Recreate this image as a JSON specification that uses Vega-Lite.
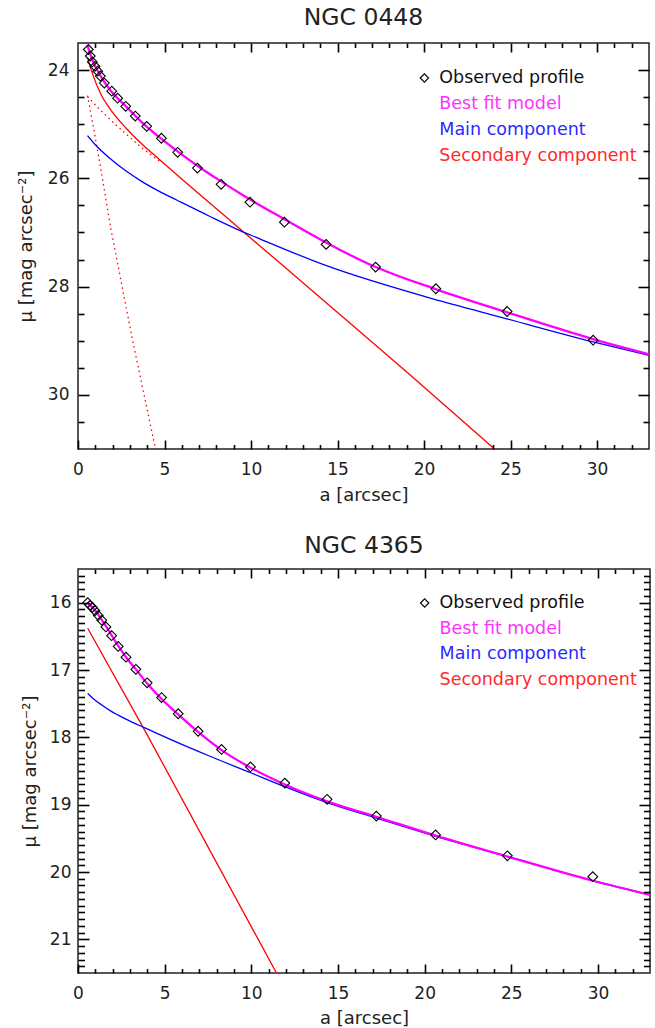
{
  "$schema": "https://vega.github.io/schema/vega-lite/v6.json",
  "padding": {"left": 16, "top": 4, "right": 0, "bottom": 0},
  "background": "white",
  "config": {
    "font": "DejaVu Sans",
    "view": {"stroke": "#222", "strokeWidth": 1.5},
    "axis": {
      "grid": false,
      "labelFont": "DejaVu Sans", "labelFontSize": 17, "labelColor": "#222",
      "titleFont": "DejaVu Sans", "titleFontSize": 18, "titleFontWeight": "normal", "titleColor": "#222"
    },
    "title": {"font": "DejaVu Sans", "fontSize": 23.5, "fontWeight": "normal", "color": "#222"},
    "line": {"interpolate": "monotone"},
    "text": {"font": "DejaVu Sans", "fontSize": 17.5, "align": "left", "baseline": "middle"}
  },
  "datasets": {
    "key_labels": [
      {"label": "Observed profile"},
      {"label": "Best fit model"},
      {"label": "Main component"},
      {"label": "Secondary component"}
    ],
    "profile_0448": [
      {"a": 0.60, "mu": 23.62}, {"a": 0.71, "mu": 23.74}, {"a": 0.83, "mu": 23.85}, {"a": 0.98, "mu": 23.93},
      {"a": 1.14, "mu": 24.02}, {"a": 1.29, "mu": 24.11}, {"a": 1.52, "mu": 24.24}, {"a": 1.95, "mu": 24.39},
      {"a": 2.29, "mu": 24.52}, {"a": 2.76, "mu": 24.67}, {"a": 3.31, "mu": 24.85}, {"a": 3.97, "mu": 25.04},
      {"a": 4.82, "mu": 25.26}, {"a": 5.76, "mu": 25.52}, {"a": 6.90, "mu": 25.81}, {"a": 8.27, "mu": 26.11},
      {"a": 9.94, "mu": 26.44}, {"a": 11.93, "mu": 26.81}, {"a": 14.34, "mu": 27.22}, {"a": 17.20, "mu": 27.64},
      {"a": 20.68, "mu": 28.04}, {"a": 24.80, "mu": 28.46}, {"a": 29.77, "mu": 28.99}
    ],
    "curves_0448": [
      {"comp": "model", "a": 0.55, "mu": 23.55},
      {"comp": "model", "a": 0.85, "mu": 23.83},
      {"comp": "model", "a": 1.33, "mu": 24.12},
      {"comp": "model", "a": 1.81, "mu": 24.35},
      {"comp": "model", "a": 2.77, "mu": 24.67},
      {"comp": "model", "a": 3.74, "mu": 24.98},
      {"comp": "model", "a": 4.70, "mu": 25.24},
      {"comp": "model", "a": 5.66, "mu": 25.48},
      {"comp": "model", "a": 7.00, "mu": 25.79},
      {"comp": "model", "a": 8.00, "mu": 26.00},
      {"comp": "model", "a": 9.42, "mu": 26.29},
      {"comp": "model", "a": 11.90, "mu": 26.75},
      {"comp": "model", "a": 14.30, "mu": 27.18},
      {"comp": "model", "a": 17.13, "mu": 27.63},
      {"comp": "model", "a": 20.70, "mu": 28.05},
      {"comp": "model", "a": 24.84, "mu": 28.48},
      {"comp": "model", "a": 29.77, "mu": 28.97},
      {"comp": "model", "a": 33.00, "mu": 29.25},
      {"comp": "main", "a": 0.55, "mu": 25.21},
      {"comp": "main", "a": 1.00, "mu": 25.38},
      {"comp": "main", "a": 1.80, "mu": 25.62},
      {"comp": "main", "a": 2.80, "mu": 25.87},
      {"comp": "main", "a": 3.70, "mu": 26.06},
      {"comp": "main", "a": 4.70, "mu": 26.24},
      {"comp": "main", "a": 5.70, "mu": 26.40},
      {"comp": "main", "a": 7.60, "mu": 26.70},
      {"comp": "main", "a": 9.40, "mu": 26.97},
      {"comp": "main", "a": 10.30, "mu": 27.09},
      {"comp": "main", "a": 14.24, "mu": 27.60},
      {"comp": "main", "a": 21.00, "mu": 28.27},
      {"comp": "main", "a": 24.84, "mu": 28.60},
      {"comp": "main", "a": 29.77, "mu": 29.02},
      {"comp": "main", "a": 33.00, "mu": 29.27},
      {"comp": "secondary", "a": 0.55, "mu": 23.77},
      {"comp": "secondary", "a": 0.85, "mu": 24.08},
      {"comp": "secondary", "a": 1.33, "mu": 24.45},
      {"comp": "secondary", "a": 1.81, "mu": 24.70},
      {"comp": "secondary", "a": 2.77, "mu": 25.07},
      {"comp": "secondary", "a": 3.74, "mu": 25.38},
      {"comp": "secondary", "a": 4.70, "mu": 25.65},
      {"comp": "secondary", "a": 5.66, "mu": 25.92},
      {"comp": "secondary", "a": 7.00, "mu": 26.29},
      {"comp": "secondary", "a": 8.00, "mu": 26.56},
      {"comp": "secondary", "a": 9.13, "mu": 26.87},
      {"comp": "secondary", "a": 14.53, "mu": 28.35},
      {"comp": "secondary", "a": 19.15, "mu": 29.62},
      {"comp": "secondary", "a": 24.07, "mu": 31.00},
      {"comp": "secondary inner", "a": 0.55, "mu": 24.47},
      {"comp": "secondary inner", "a": 0.85, "mu": 24.98},
      {"comp": "secondary inner", "a": 1.33, "mu": 25.85},
      {"comp": "secondary inner", "a": 1.91, "mu": 26.95},
      {"comp": "secondary inner", "a": 3.16, "mu": 29.00},
      {"comp": "secondary inner", "a": 4.48, "mu": 31.00},
      {"comp": "secondary outer", "a": 0.55, "mu": 24.49},
      {"comp": "secondary outer", "a": 1.23, "mu": 24.72},
      {"comp": "secondary outer", "a": 1.81, "mu": 24.90},
      {"comp": "secondary outer", "a": 2.77, "mu": 25.18},
      {"comp": "secondary outer", "a": 3.74, "mu": 25.45},
      {"comp": "secondary outer", "a": 4.70, "mu": 25.68}
    ],
    "profile_4365": [
      {"a": 0.56, "mu": 16.00}, {"a": 0.69, "mu": 16.04}, {"a": 0.83, "mu": 16.07}, {"a": 0.98, "mu": 16.12},
      {"a": 1.17, "mu": 16.19}, {"a": 1.37, "mu": 16.26}, {"a": 1.61, "mu": 16.36}, {"a": 1.94, "mu": 16.49},
      {"a": 2.32, "mu": 16.65}, {"a": 2.77, "mu": 16.81}, {"a": 3.34, "mu": 16.99}, {"a": 3.99, "mu": 17.19},
      {"a": 4.82, "mu": 17.41}, {"a": 5.78, "mu": 17.65}, {"a": 6.93, "mu": 17.91}, {"a": 8.28, "mu": 18.18},
      {"a": 9.95, "mu": 18.44}, {"a": 11.93, "mu": 18.68}, {"a": 14.37, "mu": 18.92}, {"a": 17.21, "mu": 19.17},
      {"a": 20.63, "mu": 19.45}, {"a": 24.77, "mu": 19.76}, {"a": 29.70, "mu": 20.07}
    ],
    "curves_4365": [
      {"comp": "model", "a": 0.56, "mu": 16.00},
      {"comp": "model", "a": 1.00, "mu": 16.12},
      {"comp": "model", "a": 1.61, "mu": 16.35},
      {"comp": "model", "a": 2.32, "mu": 16.64},
      {"comp": "model", "a": 2.77, "mu": 16.81},
      {"comp": "model", "a": 3.34, "mu": 16.99},
      {"comp": "model", "a": 3.99, "mu": 17.20},
      {"comp": "model", "a": 4.82, "mu": 17.43},
      {"comp": "model", "a": 5.78, "mu": 17.66},
      {"comp": "model", "a": 6.93, "mu": 17.92},
      {"comp": "model", "a": 8.28, "mu": 18.19},
      {"comp": "model", "a": 9.95, "mu": 18.45},
      {"comp": "model", "a": 11.93, "mu": 18.70},
      {"comp": "model", "a": 14.37, "mu": 18.95},
      {"comp": "model", "a": 17.21, "mu": 19.18},
      {"comp": "model", "a": 20.63, "mu": 19.46},
      {"comp": "model", "a": 24.77, "mu": 19.77},
      {"comp": "model", "a": 29.70, "mu": 20.13},
      {"comp": "model", "a": 33.00, "mu": 20.34},
      {"comp": "main", "a": 0.56, "mu": 17.35},
      {"comp": "main", "a": 0.90, "mu": 17.43},
      {"comp": "main", "a": 1.37, "mu": 17.52},
      {"comp": "main", "a": 1.90, "mu": 17.61},
      {"comp": "main", "a": 2.32, "mu": 17.67},
      {"comp": "main", "a": 3.00, "mu": 17.76},
      {"comp": "main", "a": 3.86, "mu": 17.86},
      {"comp": "main", "a": 5.59, "mu": 18.06},
      {"comp": "main", "a": 7.51, "mu": 18.27},
      {"comp": "main", "a": 10.00, "mu": 18.53},
      {"comp": "main", "a": 12.00, "mu": 18.74},
      {"comp": "main", "a": 14.37, "mu": 18.97},
      {"comp": "main", "a": 17.21, "mu": 19.20},
      {"comp": "main", "a": 20.63, "mu": 19.47},
      {"comp": "main", "a": 24.77, "mu": 19.77},
      {"comp": "main", "a": 29.70, "mu": 20.13},
      {"comp": "main", "a": 33.00, "mu": 20.34},
      {"comp": "secondary", "a": 0.56, "mu": 16.38},
      {"comp": "secondary", "a": 3.86, "mu": 17.90},
      {"comp": "secondary", "a": 11.45, "mu": 21.50}
    ]
  },
  "vconcat": [
    {
      "title": {"text": "NGC 0448", "offset": 12},
      "width": 571,
      "height": 406,
      "resolve": {"axis": {"x": "independent", "y": "independent"}, "scale": {"y": "independent"}},
      "layer": [
        {
          "data": {"name": "curves_0448"},
          "transform": [{"filter": "indexof(datum.comp, 'secondary ') === 0"}],
          "mark": {"type": "line", "color": "#ff0000", "strokeWidth": 1.3, "strokeDash": [1.5, 3.5], "interpolate": "linear"},
          "encoding": {
            "x": {"field": "a", "type": "quantitative", "scale": {"domain": [0, 33], "nice": false, "zero": false}, "axis": null},
            "y": {"field": "mu", "type": "quantitative", "scale": {"domain": [23.5, 31], "reverse": true, "nice": false, "zero": false}, "axis": null},
            "detail": {"field": "comp"}
          }
        },
        {
          "data": {"name": "curves_0448"},
          "transform": [{"filter": "datum.comp === 'secondary'"}],
          "mark": {"type": "line", "color": "#ff0000", "strokeWidth": 1.3},
          "encoding": {
            "x": {"field": "a", "type": "quantitative", "scale": {"domain": [0, 33], "nice": false, "zero": false},
              "axis": {"orient": "top", "values": [5, 10, 15, 20, 25, 30], "labels": false, "domain": false, "title": null, "offset": -9, "tickSize": 9, "tickColor": "#000000", "tickWidth": 1.6, "zindex": 2}},
            "y": {"field": "mu", "type": "quantitative", "scale": {"domain": [23.5, 31], "reverse": true, "nice": false, "zero": false},
              "axis": {"orient": "right", "values": [24, 26, 28, 30], "labels": false, "domain": false, "title": null, "offset": -11, "tickSize": 11, "tickColor": "#000000", "tickWidth": 1.6, "zindex": 2}}
          }
        },
        {
          "data": {"name": "curves_0448"},
          "transform": [{"filter": "datum.comp === 'main'"}],
          "mark": {"type": "line", "color": "#0000ff", "strokeWidth": 1.3},
          "encoding": {
            "x": {"field": "a", "type": "quantitative", "scale": {"domain": [0, 33], "nice": false, "zero": false},
              "axis": {"orient": "bottom", "values": [1,2,3,4,6,7,8,9,11,12,13,14,16,17,18,19,21,22,23,24,26,27,28,29,31,32], "labels": false, "domain": false, "title": null, "offset": -4.5, "tickSize": 4.5, "tickColor": "#000000", "tickWidth": 1.6, "zindex": 2}},
            "y": {"field": "mu", "type": "quantitative", "scale": {"domain": [23.5, 31], "reverse": true, "nice": false, "zero": false},
              "axis": {"orient": "left", "values": [24.5, 25, 25.5, 26.5, 27, 27.5, 28.5, 29, 29.5, 30.5], "labels": false, "domain": false, "title": null, "offset": -6, "tickSize": 6, "tickColor": "#000000", "tickWidth": 1.6, "zindex": 2}}
          }
        },
        {
          "data": {"name": "curves_0448"},
          "transform": [{"filter": "datum.comp === 'model'"}],
          "mark": {"type": "line", "color": "#ff00ff", "strokeWidth": 2.3},
          "encoding": {
            "x": {"field": "a", "type": "quantitative", "scale": {"domain": [0, 33], "nice": false, "zero": false},
              "axis": {"orient": "top", "values": [1,2,3,4,6,7,8,9,11,12,13,14,16,17,18,19,21,22,23,24,26,27,28,29,31,32], "labels": false, "domain": false, "title": null, "offset": -4.5, "tickSize": 4.5, "tickColor": "#000000", "tickWidth": 1.6, "zindex": 2}},
            "y": {"field": "mu", "type": "quantitative", "scale": {"domain": [23.5, 31], "reverse": true, "nice": false, "zero": false},
              "axis": {"orient": "right", "values": [24.5, 25, 25.5, 26.5, 27, 27.5, 28.5, 29, 29.5, 30.5], "labels": false, "domain": false, "title": null, "offset": -6, "tickSize": 6, "tickColor": "#000000", "tickWidth": 1.6, "zindex": 2}}
          }
        },
        {
          "data": {"name": "profile_0448"},
          "mark": {"type": "point", "shape": "diamond", "filled": false, "color": "#000000", "size": 95, "strokeWidth": 1.1, "opacity": 1},
          "encoding": {
            "x": {"field": "a", "type": "quantitative", "scale": {"domain": [0, 33], "nice": false, "zero": false},
              "axis": {"orient": "bottom", "values": [0, 5, 10, 15, 20, 25, 30], "offset": -9, "tickSize": 9, "tickColor": "#000000", "tickWidth": 1.6, "zindex": 2, "domain": false, "labelPadding": 12, "labelFlush": false, "title": "a [arcsec]", "titlePadding": 9}},
            "y": {"field": "mu", "type": "quantitative", "scale": {"domain": [23.5, 31], "reverse": true, "nice": false, "zero": false},
              "axis": {"orient": "left", "values": [24, 26, 28, 30], "offset": -11, "tickSize": 11, "tickColor": "#000000", "tickWidth": 1.6, "zindex": 2, "domain": false, "labelPadding": 9, "labelFlush": false, "title": "μ [mag arcsec⁻²]", "titlePadding": 12}}
          }
        },
        {
          "data": {"name": "key_labels"},
          "mark": {"type": "text"},
          "encoding": {
            "x": {"datum": 20.88, "type": "quantitative", "scale": {"domain": [0, 33], "nice": false, "zero": false}, "axis": null},
            "y": {"field": "label", "type": "ordinal", "sort": null, "scale": {"type": "point", "range": [35, 113], "padding": 0}, "axis": null},
            "text": {"field": "label"},
            "color": {"field": "label", "type": "nominal", "legend": null,
              "scale": {"domain": ["Observed profile", "Best fit model", "Main component", "Secondary component"], "range": ["#111111", "#ff33ff", "#2a2aff", "#ff2a2a"]}}
          }
        },
        {
          "data": {"name": "key_labels"},
          "transform": [{"filter": "datum.label === 'Observed profile'"}],
          "mark": {"type": "point", "shape": "diamond", "filled": false, "color": "#000000", "size": 70, "strokeWidth": 1.1, "opacity": 1},
          "encoding": {
            "x": {"datum": 20.02, "type": "quantitative", "scale": {"domain": [0, 33], "nice": false, "zero": false}, "axis": null},
            "y": {"field": "label", "type": "ordinal", "scale": {"type": "point", "domain": ["Observed profile"], "range": [35, 35], "padding": 0}, "axis": null}
          }
        }
      ]
    },
    {
      "title": {"text": "NGC 4365", "offset": 11},
      "width": 572,
      "height": 404,
      "resolve": {"axis": {"x": "independent", "y": "independent"}, "scale": {"y": "independent"}},
      "layer": [
        {
          "data": {"name": "curves_4365"},
          "transform": [{"filter": "datum.comp === 'secondary'"}],
          "mark": {"type": "line", "color": "#ff0000", "strokeWidth": 1.3, "interpolate": "linear"},
          "encoding": {
            "x": {"field": "a", "type": "quantitative", "scale": {"domain": [0, 33], "nice": false, "zero": false},
              "axis": {"orient": "top", "values": [5, 10, 15, 20, 25, 30], "labels": false, "domain": false, "title": null, "offset": -9, "tickSize": 9, "tickColor": "#000000", "tickWidth": 1.6, "zindex": 2}},
            "y": {"field": "mu", "type": "quantitative", "scale": {"domain": [15.5, 21.5], "reverse": true, "nice": false, "zero": false},
              "axis": {"orient": "right", "values": [16, 17, 18, 19, 20, 21], "labels": false, "domain": false, "title": null, "offset": -11, "tickSize": 11, "tickColor": "#000000", "tickWidth": 1.6, "zindex": 2}}
          }
        },
        {
          "data": {"name": "curves_4365"},
          "transform": [{"filter": "datum.comp === 'main'"}],
          "mark": {"type": "line", "color": "#0000ff", "strokeWidth": 1.3},
          "encoding": {
            "x": {"field": "a", "type": "quantitative", "scale": {"domain": [0, 33], "nice": false, "zero": false},
              "axis": {"orient": "bottom", "values": [1,2,3,4,6,7,8,9,11,12,13,14,16,17,18,19,21,22,23,24,26,27,28,29,31,32], "labels": false, "domain": false, "title": null, "offset": -4.5, "tickSize": 4.5, "tickColor": "#000000", "tickWidth": 1.6, "zindex": 2}},
            "y": {"field": "mu", "type": "quantitative", "scale": {"domain": [15.5, 21.5], "reverse": true, "nice": false, "zero": false},
              "axis": {"orient": "left", "values": [15.6,15.7,15.8,15.9,16.1,16.2,16.3,16.4,16.5,16.6,16.7,16.8,16.9,17.1,17.2,17.3,17.4,17.5,17.6,17.7,17.8,17.9,18.1,18.2,18.3,18.4,18.5,18.6,18.7,18.8,18.9,19.1,19.2,19.3,19.4,19.5,19.6,19.7,19.8,19.9,20.1,20.2,20.3,20.4,20.5,20.6,20.7,20.8,20.9,21.1,21.2,21.3,21.4], "labels": false, "domain": false, "title": null, "offset": -6.5, "tickSize": 6.5, "tickColor": "#000000", "tickWidth": 1.6, "zindex": 2}}
          }
        },
        {
          "data": {"name": "curves_4365"},
          "transform": [{"filter": "datum.comp === 'model'"}],
          "mark": {"type": "line", "color": "#ff00ff", "strokeWidth": 2.3},
          "encoding": {
            "x": {"field": "a", "type": "quantitative", "scale": {"domain": [0, 33], "nice": false, "zero": false},
              "axis": {"orient": "top", "values": [1,2,3,4,6,7,8,9,11,12,13,14,16,17,18,19,21,22,23,24,26,27,28,29,31,32], "labels": false, "domain": false, "title": null, "offset": -4.5, "tickSize": 4.5, "tickColor": "#000000", "tickWidth": 1.6, "zindex": 2}},
            "y": {"field": "mu", "type": "quantitative", "scale": {"domain": [15.5, 21.5], "reverse": true, "nice": false, "zero": false},
              "axis": {"orient": "right", "values": [15.6,15.7,15.8,15.9,16.1,16.2,16.3,16.4,16.5,16.6,16.7,16.8,16.9,17.1,17.2,17.3,17.4,17.5,17.6,17.7,17.8,17.9,18.1,18.2,18.3,18.4,18.5,18.6,18.7,18.8,18.9,19.1,19.2,19.3,19.4,19.5,19.6,19.7,19.8,19.9,20.1,20.2,20.3,20.4,20.5,20.6,20.7,20.8,20.9,21.1,21.2,21.3,21.4], "labels": false, "domain": false, "title": null, "offset": -6.5, "tickSize": 6.5, "tickColor": "#000000", "tickWidth": 1.6, "zindex": 2}}
          }
        },
        {
          "data": {"name": "profile_4365"},
          "mark": {"type": "point", "shape": "diamond", "filled": false, "color": "#000000", "size": 95, "strokeWidth": 1.1, "opacity": 1},
          "encoding": {
            "x": {"field": "a", "type": "quantitative", "scale": {"domain": [0, 33], "nice": false, "zero": false},
              "axis": {"orient": "bottom", "values": [0, 5, 10, 15, 20, 25, 30], "offset": -9, "tickSize": 9, "tickColor": "#000000", "tickWidth": 1.6, "zindex": 2, "domain": false, "labelPadding": 12, "labelFlush": false, "title": "a [arcsec]", "titlePadding": 8}},
            "y": {"field": "mu", "type": "quantitative", "scale": {"domain": [15.5, 21.5], "reverse": true, "nice": false, "zero": false},
              "axis": {"orient": "left", "values": [16, 17, 18, 19, 20, 21], "offset": -11, "tickSize": 11, "tickColor": "#000000", "tickWidth": 1.6, "zindex": 2, "domain": false, "labelPadding": 7, "labelFlush": false, "title": "μ [mag arcsec⁻²]", "titlePadding": 10}}
          }
        },
        {
          "data": {"name": "key_labels"},
          "mark": {"type": "text"},
          "encoding": {
            "x": {"datum": 20.86, "type": "quantitative", "scale": {"domain": [0, 33], "nice": false, "zero": false}, "axis": null},
            "y": {"field": "label", "type": "ordinal", "sort": null, "scale": {"type": "point", "range": [34, 111], "padding": 0}, "axis": null},
            "text": {"field": "label"},
            "color": {"field": "label", "type": "nominal", "legend": null,
              "scale": {"domain": ["Observed profile", "Best fit model", "Main component", "Secondary component"], "range": ["#111111", "#ff33ff", "#2a2aff", "#ff2a2a"]}}
          }
        },
        {
          "data": {"name": "key_labels"},
          "transform": [{"filter": "datum.label === 'Observed profile'"}],
          "mark": {"type": "point", "shape": "diamond", "filled": false, "color": "#000000", "size": 70, "strokeWidth": 1.1, "opacity": 1},
          "encoding": {
            "x": {"datum": 20.0, "type": "quantitative", "scale": {"domain": [0, 33], "nice": false, "zero": false}, "axis": null},
            "y": {"field": "label", "type": "ordinal", "scale": {"type": "point", "domain": ["Observed profile"], "range": [34, 34], "padding": 0}, "axis": null}
          }
        }
      ]
    }
  ],
  "spacing": 27
}
